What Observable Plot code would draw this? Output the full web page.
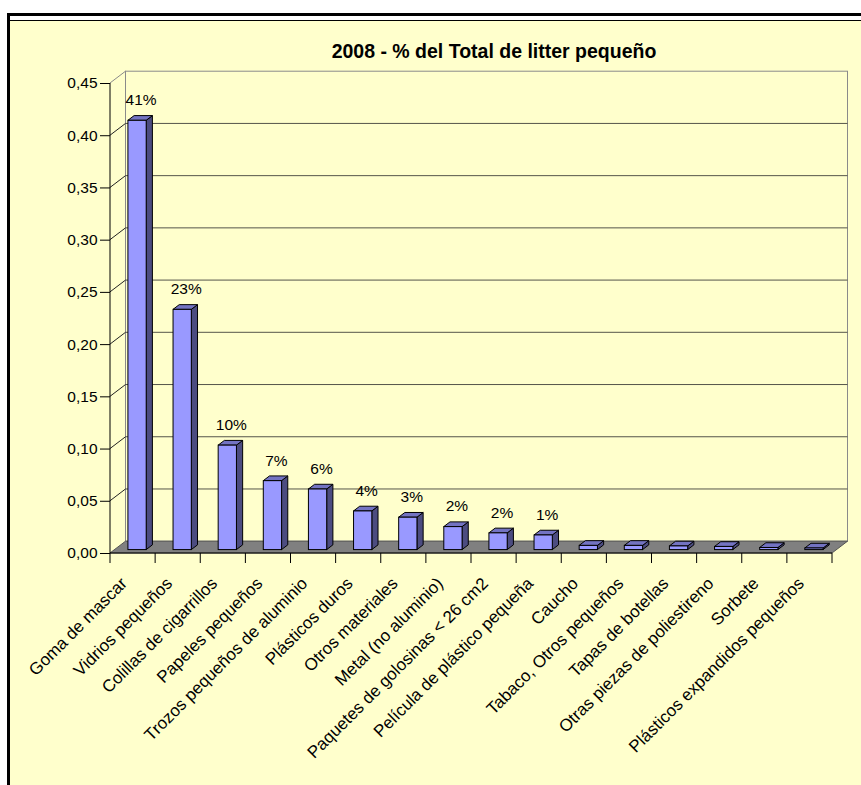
<!DOCTYPE html>
<html>
<head>
<meta charset="utf-8">
<script src="https://cdn.jsdelivr.net/npm/d3@7"></script>
<script src="https://cdn.jsdelivr.net/npm/@observablehq/plot@0.6"></script>
<style>
html, body { margin:0; padding:0; background:#fff; overflow:hidden; width:861px; height:785px; }
#frame { position:absolute; left:7px; top:13px; width:854px; height:772px; border-top:3px solid #000; border-left:3px solid #000; box-sizing:border-box; background:#fff; }
#panel { position:absolute; left:10px; top:20px; width:851px; height:765px; border-top:1px solid #000; background:#FFFFCC; }
#chart { position:absolute; left:0; top:0; }
#title { position:absolute; left:494px; top:42px; transform:translateX(-50%); white-space:nowrap;
  font:bold 19.5px "Liberation Sans", Arial, sans-serif; line-height:19px; color:#000; }
</style>
</head>
<body>
<div id="frame"></div>
<div id="panel"></div>
<div id="chart"></div>
<div id="title">2008 - % del Total de litter pequeño</div>
<script>
const categories = [
  "Goma de mascar",
  "Vidrios pequeños",
  "Colillas de cigarrillos",
  "Papeles pequeños",
  "Trozos pequeños de aluminio",
  "Plásticos duros",
  "Otros materiales",
  "Metal (no aluminio)",
  "Paquetes de golosinas < 26 cm2",
  "Película de plástico pequeña",
  "Caucho",
  "Tabaco, Otros pequeños",
  "Tapas de botellas",
  "Otras piezas de poliestireno",
  "Sorbete",
  "Plásticos expandidos pequeños"
];
const values = [0.411, 0.230, 0.100, 0.066, 0.058, 0.037, 0.031, 0.022, 0.016, 0.014, 0.004, 0.004, 0.0035, 0.003, 0.002, 0.0015];
const valueLabels = ["41%", "23%", "10%", "7%", "6%", "4%", "3%", "2%", "2%", "1%", "", "", "", "", "", ""];
const yTicks = [0, 0.05, 0.10, 0.15, 0.20, 0.25, 0.30, 0.35, 0.40, 0.45];
const yMax = 0.45;

const data = categories.map((c, i) => ({category: c, value: values[i], label: valueLabels[i]}));

// layout / 3D projection settings
const W = 861, H = 785, ML = 110, MR = 29, MT = 83, MB = 232;
const DX = 15.5, DY = -11.8;          // wall depth offset (px)
const F0 = 0.29, F1 = 0.69;           // bar depth span (fraction of wall depth)
const BW = 0.405;                     // bar width as fraction of band
const STEP = (W - ML - MR) / categories.length;
const INSET = STEP * (1 - BW) / 2;

const FRONT = "#9999FF", TOP = "#7373C2", SIDE = "#4C4C80";

// custom mark helper using Plot's scales
function sceneMark(draw) {
  return function () {
    let scales = arguments[1], dims = arguments[3];
    if (!scales || typeof scales.x !== "function") { scales = arguments[0]; dims = arguments[1]; }
    return draw(scales, dims);
  };
}

const walls = sceneMark((s) => {
  const x = s.x, y = s.y;
  const [x0, x1] = x.range();
  const y0 = y(0), yT = y(yMax);
  const g = d3.create("svg:g").attr("fill", "none");
  // back wall
  g.append("rect").attr("x", x0 + DX).attr("y", yT + DY).attr("width", x1 - x0).attr("height", y0 - yT)
    .attr("stroke", "#8a8a8a");
  // left side wall
  g.append("path").attr("d", `M${x0},${yT}L${x0 + DX},${yT + DY}L${x0 + DX},${y0 + DY}`).attr("stroke", "#8a8a8a");
  // gridlines
  for (const t of yTicks) {
    if (t <= 0 || t >= yMax) continue;
    const yy = y(t);
    g.append("path").attr("d", `M${x0 + DX},${yy + DY}H${x1 + DX}`).attr("stroke", "#55554a");
    g.append("path").attr("d", `M${x0},${yy}L${x0 + DX},${yy + DY}`).attr("stroke", "#222");
  }
  // floor
  g.append("path").attr("d", `M${x0},${y0}L${x1},${y0}L${x1 + DX},${y0 + DY}L${x0 + DX},${y0 + DY}Z`)
    .attr("fill", "#808080").attr("stroke", "#555");
  // axes lines
  g.append("path").attr("d", `M${x0},${yT}V${y0}H${x1}`).attr("stroke", "#000");
  // x tick marks at category boundaries
  const step = x.step();
  for (let i = 0; i <= categories.length; i++) {
    const xx = x0 + i * step;
    g.append("path").attr("d", `M${xx},${y0}V${y0 + 10}`).attr("stroke", "#000");
  }
  return g.node();
});

const barDepth = sceneMark((s) => {
  const x = s.x, y = s.y;
  const step = x.step();
  const ddx = (F1 - F0) * DX, ddy = (F1 - F0) * DY;
  const g = d3.create("svg:g").attr("stroke", "#000").attr("stroke-width", 1).attr("stroke-linejoin", "round");
  for (const d of data) {
    const xl = x(d.category) + step * (1 - BW) / 2 + F0 * DX;
    const xr = xl + step * BW;
    const yb = y(0) + F0 * DY;
    const yt = y(d.value) + F0 * DY;
    g.append("path").attr("fill", SIDE)
      .attr("d", `M${xr},${yb}L${xr + ddx},${yb + ddy}L${xr + ddx},${yt + ddy}L${xr},${yt}Z`);
    g.append("path").attr("fill", TOP)
      .attr("d", `M${xl},${yt}L${xr},${yt}L${xr + ddx},${yt + ddy}L${xl + ddx},${yt + ddy}Z`);
  }
  return g.node();
});

const chart = Plot.plot({
  width: W, height: H,
  marginLeft: ML, marginRight: MR, marginTop: MT, marginBottom: MB,
  style: {background: "transparent", fontFamily: '"Liberation Sans", Arial, sans-serif', fontSize: "15.5px", color: "#000", overflow: "visible"},
  x: {domain: categories, padding: 0, round: false, axis: null},
  y: {domain: [0, yMax], ticks: yTicks, tickFormat: d => d.toFixed(2).replace(".", ","), tickSize: 10, tickPadding: 3, label: null},
  marks: [
    walls,
    barDepth,
    Plot.barY(data, {x: "category", y: "value", fill: FRONT, stroke: "#000", strokeWidth: 1,
      insetLeft: INSET, insetRight: INSET, dx: F0 * DX, dy: F0 * DY}),
    Plot.text(data.filter(d => d.label), {x: "category", y: "value", text: "label", dx: 8, dy: -24, fill: "#000", fontSize: 15.5}),
    Plot.text(categories, {x: d => d, frameAnchor: "bottom", rotate: -45, textAnchor: "end", dx: -5, dy: 31, fill: "#000", fontSize: 17})
  ]
});
document.getElementById("chart").appendChild(chart);
</script>
</body>
</html>
